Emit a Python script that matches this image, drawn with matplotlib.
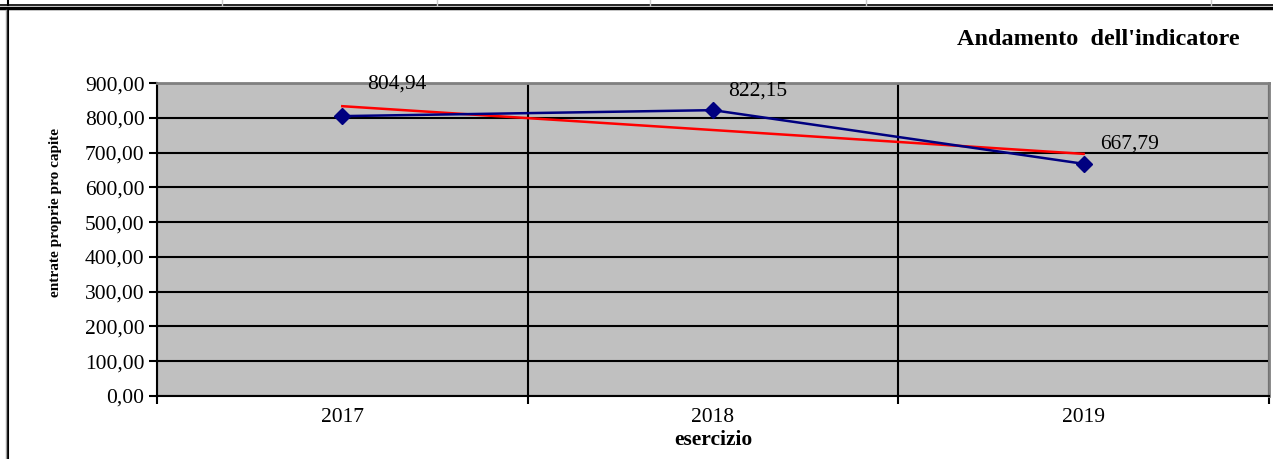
import numpy as np
import matplotlib.pyplot as plt
from matplotlib.lines import Line2D

anni = ['2017', '2018', '2019']
valori = [804.94, 822.15, 667.79]
etichette = ['804,94', '822,15', '667,79']
yticks = [0, 100, 200, 300, 400, 500, 600, 700, 800, 900]

plt.rcParams['font.family'] = ['Liberation Serif', 'DejaVu Serif']

fig = plt.figure(figsize=(12.73, 4.59), dpi=100)
ax = fig.add_axes([0.1233, 0.1373, 0.8735, 0.6817])
ax.set_facecolor('#c0c0c0')

x = np.arange(len(anni))
ax.plot(x, valori, color='#000080', lw=1.8, marker='D', ms=8,
        markerfacecolor='#000080', markeredgecolor='#000080', zorder=4)

# linea di tendenza lineare
m, q = np.polyfit(x, valori, 1)
ax.plot(x, m * x + q, color='#ff0000', lw=1.8, zorder=3)

offs = [(18, 23), (11, 14), (12, 14)]
for xi, v, t, o in zip(x, valori, etichette, offs):
    ax.annotate(t, (xi, v), xytext=o, textcoords='offset points',
                fontsize=15.5, va='center', ha='left', color='black')

ax.set_xlim(-0.5, len(anni) - 0.5)
ax.set_ylim(0, 900)
ax.set_yticks(yticks)
ax.set_yticklabels([f'{v:.2f}'.replace('.', ',') for v in yticks], fontsize=15.5)
ax.set_xticks(x)
ax.set_xticklabels(anni, fontsize=15.5)
ax.tick_params(axis='x', which='major', length=0, pad=9)
ax.set_xticks(np.arange(-0.5, len(anni)), minor=True)
ax.tick_params(axis='x', which='minor', length=6, width=1.5, direction='out')
ax.tick_params(axis='y', length=6, width=1.5, direction='out', pad=3)

ax.grid(axis='y', which='major', color='black', lw=1.5)
ax.grid(axis='x', which='minor', color='black', lw=1.5)
ax.set_axisbelow(True)

for s in ['top', 'right']:
    ax.spines[s].set_color('#808080')
    ax.spines[s].set_linewidth(2)
for s in ['left', 'bottom']:
    ax.spines[s].set_color('black')
    ax.spines[s].set_linewidth(1.5)

ax.set_ylabel('entrate proprie pro capite', fontsize=11, fontweight='bold')
ax.yaxis.set_label_coords(-0.085, 0.585)
ax.set_xlabel('esercizio', fontsize=15.5, fontweight='bold')
ax.xaxis.set_label_coords(0.5, -0.11)

fig.text(0.974, 0.913, "Andamento  dell'indicatore", fontsize=17.5, fontweight='bold',
         ha='right', va='center')

# cornice della tabella
W, H = 1273, 459
def px(xp, yp):
    return xp / W, 1 - yp / H
fig.add_artist(Line2D([px(0, 5)[0], 1], [px(0, 5)[1]] * 2, color='black', lw=1.2))
fig.add_artist(Line2D([px(0, 8)[0], 1], [px(0, 8)[1]] * 2, color='black', lw=2.5))
fig.add_artist(Line2D([px(8, 0)[0]] * 2, [px(0, 0)[1], px(0, 5)[1]], color='black', lw=1.5))
fig.add_artist(Line2D([px(8, 0)[0]] * 2, [px(0, 10)[1], 0], color='black', lw=1.5))
fig.add_artist(Line2D([px(6, 0)[0]] * 2, [px(0, 10)[1], 0], color='#a0a0a0', lw=1))
for xd in [222, 437, 650, 866, 1211]:
    fig.add_artist(Line2D([xd / W] * 2, [1, px(0, 5)[1]], color='#c8c8c8', lw=1))

fig.savefig('out.png', dpi=100)
